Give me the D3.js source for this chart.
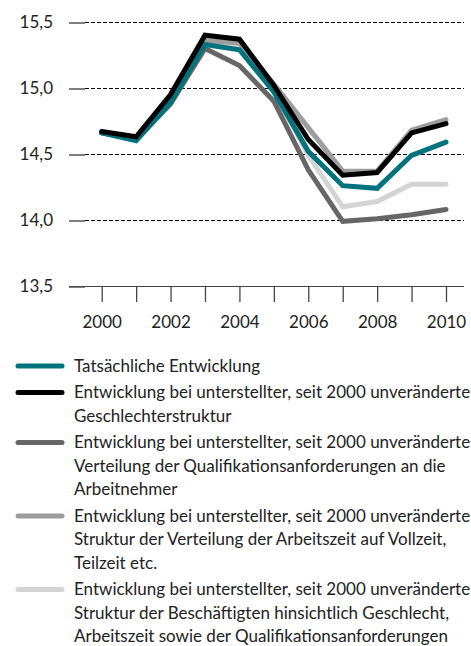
<!DOCTYPE html>
<html>
<head>
<meta charset="utf-8">
<script src="https://cdn.jsdelivr.net/npm/d3@7.9.0/dist/d3.min.js"></script>
<style>
  body { margin: 0; background: #fff; }
  svg { display: block; font-family: Lato, "Open Sans", sans-serif; }
  .axis text { font-size: 17px; fill: #222; }
  .legend text { font-size: 17px; fill: #222; }
</style>
</head>
<body>
<svg width="471" height="646"></svg>
<script>
// data
const years = [2000, 2001, 2002, 2003, 2004, 2005, 2006, 2007, 2008, 2009, 2010];
const yTicks = [13.5, 14.0, 14.5, 15.0, 15.5];

const tatsaechlich   = [14.66, 14.60, 14.89, 15.33, 15.29, 14.97, 14.52, 14.26, 14.24, 14.49, 14.59];
const geschlecht     = [14.67, 14.63, 14.95, 15.40, 15.37, 15.02, 14.61, 14.34, 14.36, 14.66, 14.73];
const qualifikation  = [14.66, 14.61, 14.88, 15.30, 15.17, 14.90, 14.38, 13.99, 14.01, 14.04, 14.08];
const arbeitszeit    = [14.66, 14.61, 14.91, 15.36, 15.34, 15.03, 14.70, 14.37, 14.37, 14.68, 14.76];
const beschaeftigte  = [14.66, 14.61, 14.90, 15.35, 15.31, 14.98, 14.49, 14.10, 14.14, 14.27, 14.27];

const legendLabels = [
  ["Tatsächliche Entwicklung"],
  ["Entwicklung bei unterstellter, seit 2000 unveränderte", "Geschlechterstruktur"],
  ["Entwicklung bei unterstellter, seit 2000 unveränderte", "Verteilung der Qualifikationsanforderungen an die", "Arbeitnehmer"],
  ["Entwicklung bei unterstellter, seit 2000 unveränderte", "Struktur der Verteilung der Arbeitszeit auf Vollzeit,", "Teilzeit etc."],
  ["Entwicklung bei unterstellter, seit 2000 unveränderte", "Struktur der Beschäftigten hinsichtlich Geschlecht,", "Arbeitszeit sowie der Qualifikationsanforderungen"]
];

const colors = ["#00737d", "#000000", "#666666", "#9e9e9e", "#d4d4d4"];
const allSeries = [tatsaechlich, geschlecht, qualifikation, arbeitszeit, beschaeftigte];

const svg = d3.select('svg');

const x = d3.scaleLinear().domain([2000, 2010]).range([101.7, 446]);
const y = d3.scaleLinear().domain([13.5, 15.5]).range([286, 22]);

const left = 69, axisX = 85, right = 464;

// gridlines (dashed)
svg.append('g')
  .selectAll('line')
  .data(yTicks)
  .join('line')
  .attr('x1', axisX).attr('x2', right)
  .attr('y1', d => y(d) + 0.5).attr('y2', d => y(d) + 0.5)
  .attr('stroke', '#000')
  .attr('stroke-width', 1)
  .attr('shape-rendering', 'crispEdges')
  .attr('stroke-dasharray', '3.5,2.5');

// base line
svg.append('line')
  .attr('x1', left).attr('x2', right)
  .attr('y1', y(13.5) + 0.5).attr('y2', y(13.5) + 0.5)
  .attr('stroke', '#444').attr('stroke-width', 1)
  .attr('shape-rendering', 'crispEdges');

// y axis
const yAxis = svg.append('g')
  .attr('class', 'axis')
  .attr('transform', `translate(${axisX},0.5)`)
  .call(d3.axisLeft(y).tickValues(yTicks).tickSize(16).tickPadding(16)
    .tickFormat(d => d.toFixed(1).replace('.', ',')));
yAxis.select('.domain').remove();
yAxis.selectAll('line').attr('stroke', '#555').attr('stroke-width', 1.5);
yAxis.selectAll('text').attr('font-family', 'Lato, sans-serif');

// x axis
const xAxis = svg.append('g')
  .attr('class', 'axis')
  .attr('transform', `translate(0,${y(13.5)})`)
  .call(d3.axisBottom(x).tickValues(years).tickSize(16).tickPadding(14)
    .tickFormat(d => d % 2 === 0 ? d : ''));
xAxis.select('.domain').remove();
xAxis.selectAll('line').attr('stroke', '#444').attr('stroke-width', 1.3);
xAxis.selectAll('text').attr('font-family', 'Lato, sans-serif');

// lines, drawn light to dark so black ends on top
const line = d3.line().x((d, i) => x(years[i])).y(d => y(d));
const drawOrder = [4, 3, 2, 0, 1];
drawOrder.forEach(idx => {
  svg.append('path')
    .attr('d', line(allSeries[idx]))
    .attr('fill', 'none')
    .attr('stroke', colors[idx])
    .attr('stroke-width', 5)
    .attr('stroke-linejoin', 'miter')
    .attr('stroke-linecap', 'round');
});

// legend
const legend = svg.append('g').attr('class', 'legend');
const lineH = 23.5, gap = 26.5;
let cy = 366;
legendLabels.forEach((lines, idx) => {
  legend.append('line')
    .attr('x1', 18).attr('x2', 62)
    .attr('y1', cy).attr('y2', cy)
    .attr('stroke', colors[idx])
    .attr('stroke-width', 5)
    .attr('stroke-linecap', 'round');
  lines.forEach((t, j) => {
    legend.append('text')
      .attr('x', 74)
      .attr('y', cy + j * lineH)
      .attr('dy', '0.35em')
      .text(t);
  });
  cy += (lines.length - 1) * lineH + gap;
});
</script>
</body>
</html>
